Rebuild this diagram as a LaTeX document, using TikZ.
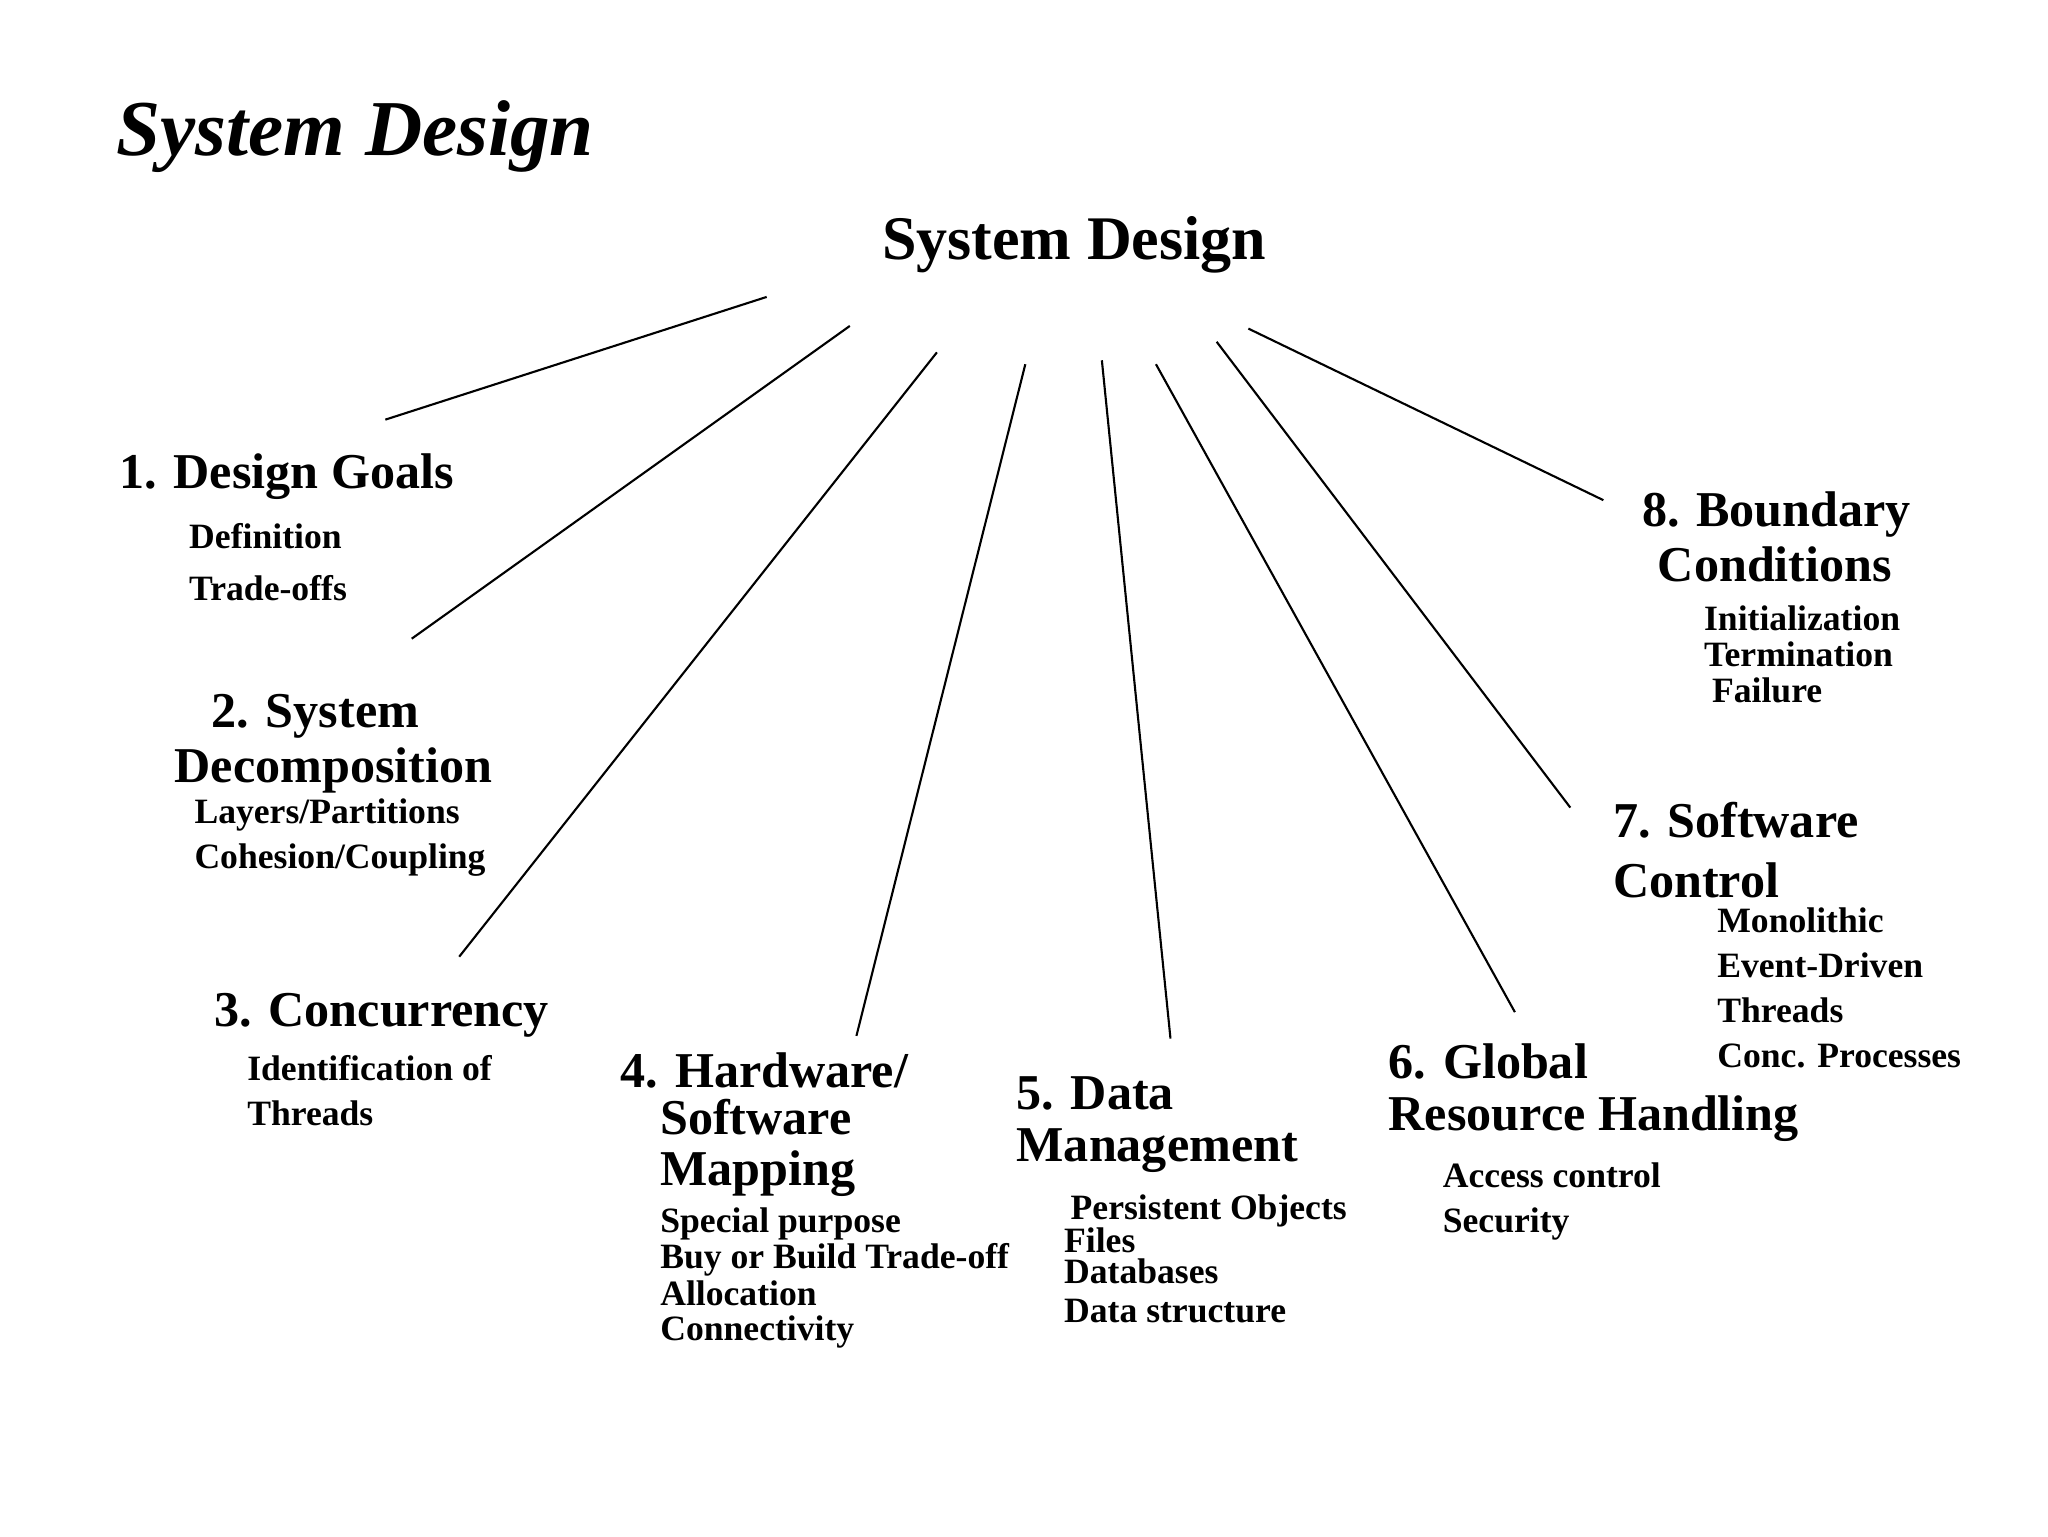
\documentclass[tikz,border=0pt]{standalone}
\usepackage{fontspec}
\setmainfont{Liberation Serif}
\begin{document}
\begin{tikzpicture}[x=0.5pt,y=-0.5pt,
  hd/.style={anchor=base west,inner sep=0pt,font=\fontsize{19}{22}\selectfont\bfseries},
  it/.style={anchor=base west,inner sep=0pt,font=\fontsize{13.5}{15}\selectfont\bfseries},
  ln/.style={line width=0.8pt}]
\useasboundingbox[fill=white] (0,0) rectangle (1552,1164);
\node[anchor=base west,inner sep=0pt,font=\fontsize{30}{34}\selectfont\bfseries\itshape] (title) at (88,118) {System Design};
\node[anchor=base west,inner sep=0pt,font=\fontsize{23.5}{28}\selectfont\bfseries] (root) at (668,197) {System Design};
% 1
\node[hd] (h1) at (90,370) {1. Design Goals};
\node[it] at (143,416) {Definition};
\node[it] at (143,455) {Trade-offs};
% 2
\node[hd] (h2) at (160,551) {2. System};
\node[hd] at (132,593) {Decomposition};
\node[it] at (147,624) {Layers/Partitions};
\node[it] at (147,658) {Cohesion/Coupling};
% 3
\node[hd] (h3) at (162,778) {3. Concurrency};
\node[it] at (187,819) {Identification of};
\node[it] at (187,853) {Threads};
% 4
\node[hd] (h4) at (470,824) {4. Hardware/};
\node[hd] at (500,860) {Software};
\node[hd] at (500,898) {Mapping};
\node[it] at (500,934) {Special purpose};
\node[it] at (500,961) {Buy or Build Trade-off};
\node[it] at (500,989) {Allocation};
\node[it] at (500,1016) {Connectivity};
% 5
\node[hd] (h5) at (770,841) {5. Data};
\node[hd] at (770,880) {Management};
\node[it] at (811,924) {Persistent Objects};
\node[it] at (806,949) {Files};
\node[it] at (806,973) {Databases};
\node[it] at (806,1002) {Data structure};
% 6
\node[hd] (h6) at (1052,817) {6. Global};
\node[hd] at (1052,857) {Resource Handling};
\node[it] at (1093,900) {Access control};
\node[it] at (1093,934) {Security};
% 7
\node[hd] (h7) at (1222,635) {7. Software};
\node[hd] at (1222,680) {Control};
\node[it] at (1301,707) {Monolithic};
\node[it] at (1301,741) {Event-Driven};
\node[it] at (1301,775) {Threads};
\node[it] at (1301,809) {Conc. Processes};
% 8
\node[hd] (h8) at (1244,399) {8. Boundary};
\node[hd] at (1256,441) {Conditions};
\node[it] at (1291,478) {Initialization};
\node[it] at (1291,505) {Termination};
\node[it] at (1297,532) {Failure};
% connector ends
\coordinate (s1) at (581,225); \coordinate (e1) at (292,318);
\coordinate (s2) at (644,247); \coordinate (e2) at (312,484);
\coordinate (s3) at (710,267); \coordinate (e3) at (348,725);
\coordinate (s4) at (777,276); \coordinate (e4) at (649,785);
\coordinate (s5) at (835,273); \coordinate (e5) at (887,787);
\coordinate (s6) at (876,276); \coordinate (e6) at (1148,767);
\coordinate (s7) at (922,259); \coordinate (e7) at (1190,612);
\coordinate (s8) at (946,249); \coordinate (e8) at (1215,379);
\foreach \i in {1,...,8} \draw[ln] (s\i) -- (e\i);
\end{tikzpicture}
\end{document}
